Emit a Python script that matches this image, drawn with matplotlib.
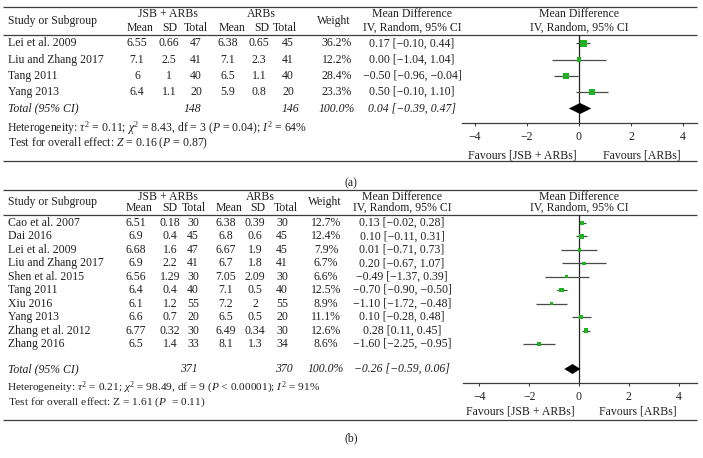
import numpy as np
import matplotlib.pyplot as plt

W, H = 703, 458

# ---- panel (a) data ----
studies_a = ["Lei et al. 2009", "Liu and Zhang 2017", "Tang 2011", "Yang 2013"]
jsb_mean_a = [6.55, 7.1, 6, 6.4]
jsb_sd_a = [0.66, 2.5, 1, 1.1]
jsb_n_a = [47, 41, 40, 20]
arb_mean_a = [6.38, 7.1, 6.5, 5.9]
arb_sd_a = [0.65, 2.3, 1.1, 0.8]
arb_n_a = [45, 41, 40, 20]
weight_a = [36.2, 12.2, 28.4, 23.3]
md_a = [0.17, 0.00, -0.50, 0.50]
lo_a = [-0.10, -1.04, -0.96, -0.10]
hi_a = [0.44, 1.04, -0.04, 1.10]
total_a = [148, 146, 0.04, -0.39, 0.47]
het_a = r"Heterogeneity: $\tau^2$ = 0.11; $\chi^2$ = 8.43, df = 3 ($P$ = 0.04); $I^2$ = 64%"
test_a = r"Test for overall effect: $Z$ = 0.16 ($P$ = 0.87)"

# ---- panel (b) data ----
studies_b = ["Cao et al. 2007", "Dai 2016", "Lei et al. 2009", "Liu and Zhang 2017",
             "Shen et al. 2015", "Tang 2011", "Xiu 2016", "Yang 2013",
             "Zhang et al. 2012", "Zhang 2016"]
jsb_mean_b = [6.51, 6.9, 6.68, 6.9, 6.56, 6.4, 6.1, 6.6, 6.77, 6.5]
jsb_sd_b = [0.18, 0.4, 1.6, 2.2, 1.29, 0.4, 1.2, 0.7, 0.32, 1.4]
jsb_n_b = [30, 45, 47, 41, 30, 40, 55, 20, 30, 33]
arb_mean_b = [6.38, 6.8, 6.67, 6.7, 7.05, 7.1, 7.2, 6.5, 6.49, 8.1]
arb_sd_b = [0.39, 0.6, 1.9, 1.8, 2.09, 0.5, 2, 0.5, 0.34, 1.3]
arb_n_b = [30, 45, 45, 41, 30, 40, 55, 20, 30, 34]
weight_b = [12.7, 12.4, 7.9, 6.7, 6.6, 12.5, 8.9, 11.1, 12.6, 8.6]
md_b = [0.13, 0.10, 0.01, 0.20, -0.49, -0.70, -1.10, 0.10, 0.28, -1.60]
lo_b = [-0.02, -0.11, -0.71, -0.67, -1.37, -0.90, -1.72, -0.28, 0.11, -2.25]
hi_b = [0.28, 0.31, 0.73, 1.07, 0.39, -0.50, -0.48, 0.48, 0.45, -0.95]
total_b = [371, 370, -0.26, -0.59, 0.06]
het_b = r"Heterogeneity: $\tau^2$ = 0.21; $\chi^2$ = 98.49, df = 9 ($P$ < 0.00001); $I^2$ = 91%"
test_b = r"Test for overall effect: Z = 1.61 ($P$  = 0.11)"

xticks = [-4, -2, 0, 2, 4]

plt.rcParams['font.family'] = ['Liberation Serif', 'DejaVu Serif']
plt.rcParams['mathtext.fontset'] = 'custom'
plt.rcParams['mathtext.rm'] = 'Liberation Serif'
plt.rcParams['mathtext.it'] = 'Liberation Serif:italic'

TXT = '#231f20'
GREEN = '#1fb11f'
LINE = '#3c3c3c'
FS = 8.5

fig = plt.figure(figsize=(W / 100, H / 100), dpi=100)
bg = fig.add_axes([0, 0, 1, 1])
bg.set_xlim(0, W)
bg.set_ylim(H, 0)
bg.axis('off')


def num(v):
    return f"{v:g}"


def ci(m, l, h):
    return f"{m:.2f} [{l:.2f}, {h:.2f}]".replace('-', '\u2212')


def txt(x, y, s, ha='center', **kw):
    kw.setdefault('fontsize', FS)
    bg.text(x, y, s, ha=ha, va='center', color=TXT, **kw)


def panel(L, studies, jm, js, jn, am, asd, an, wt, md, lo, hi, tot, het, test):
    c = L['cols']
    # rules
    bg.hlines([L['top'], L['under'], L['bottom']], 3, 697, color=LINE, lw=0.9)
    # header
    txt(8, L['hmid'], "Study or Subgroup", ha='left')
    txt(c['jh'], L['h1'], "JSB + ARBs")
    txt(c['ah'], L['h1'], "ARBs")
    for x, s in zip(c['head2'], ["Mean", "SD", "Total", "Mean", "SD", "Total"]):
        txt(x, L['h2'], s)
    txt(c['wh'], L['hmid'], "Weight")
    for x in (c['md'], 579):
        txt(x, L['h1'], "Mean Difference")
        txt(x, L['h2'], "IV, Random, 95% CI")
    # study rows
    ys = L['first'] + np.arange(len(studies)) * L['step']
    for i, y in enumerate(ys):
        txt(8, y, studies[i], ha='left')
        vals = [num(jm[i]), num(js[i]), str(jn[i]), num(am[i]), num(asd[i]), str(an[i])]
        for x, s in zip(c['vals'], vals):
            txt(x, y, s)
        txt(c['w'], y, f"{wt[i]:.1f}%")
        txt(c['md'], y, ci(md[i], lo[i], hi[i]))
    # total row
    ty = L['total']
    txt(8, ty, "Total (95% CI)", ha='left', style='italic')
    txt(c['vals'][2] - 4, ty, str(tot[0]), style='italic')
    txt(c['vals'][5] + 2, ty, str(tot[1]), style='italic')
    txt(c['w'], ty, "100.0%", style='italic')
    txt(c['md'], ty, ci(tot[2], tot[3], tot[4]), style='italic')
    txt(7, L['het'], het, ha='left', fontsize=L['foot_fs'])
    txt(8, L['test'], test, ha='left', fontsize=L['foot_fs'])
    txt(c['fav1'], L['fav'], "Favours [JSB + ARBs]")
    txt(c['fav2'], L['fav'], "Favours [ARBs]")
    txt(351, L['label'], L['name'])

    # forest axes
    fx0, fx1, k = L['fx0'], 697, L['k']
    ax = fig.add_axes([fx0 / W, 1 - L['axis'] / H, (fx1 - fx0) / W, (L['axis'] - L['under']) / H])
    ax.patch.set_alpha(0)
    ax.set_xlim((fx0 - 579) / k, (fx1 - 579) / k)
    step = L['step']
    ax.set_ylim((L['axis'] - L['first']) / step, (L['under'] - L['first']) / step)
    rows = np.arange(len(studies))
    ax.axvline(0, color='#222222', lw=0.9, zorder=1)
    ax.hlines(rows, lo, hi, color='#4a4a4a', lw=0.9, zorder=2)
    ax.scatter(md, rows, marker='s', s=np.array(wt) * 0.75, color=GREEN, lw=0, zorder=3)
    tr = (ty - L['first']) / step
    dh = L['dh'] / step
    ax.fill([tot[3], tot[2], tot[4], tot[2]], [tr, tr - dh, tr, tr + dh], color='black', lw=0, zorder=4)
    for s in ['top', 'left', 'right']:
        ax.spines[s].set_visible(False)
    ax.spines['bottom'].set_color(LINE)
    ax.spines['bottom'].set_linewidth(0.9)
    ax.set_yticks([])
    ax.set_xticks(xticks)
    ax.tick_params(axis='x', direction='out', length=2.5, width=0.8, labelsize=FS,
                   pad=3, colors=LINE, labelcolor=TXT)


layout_a = dict(name="(a)", top=7, h1=14, hmid=21, h2=28, under=35, first=43.3, step=16.3,
                total=108.5, axis=123, het=128, test=143, fav=155, bottom=161, label=183,
                fx0=462, k=26.0, dh=5.5, foot_fs=FS,
                cols=dict(jh=168, ah=261, head2=[140, 170, 196, 232, 262, 285], wh=334,
                          vals=[137, 169, 196, 228, 259, 288], w=337, md=412,
                          fav1=522, fav2=642))
layout_b = dict(name="(b)", top=190, h1=197, hmid=202, h2=208, under=215, first=223, step=13.44,
                total=369, axis=383, het=388, test=402, fav=412, bottom=420, label=438,
                fx0=463, k=24.9, dh=5, foot_fs=8.2,
                cols=dict(jh=168, ah=260, head2=[139, 170, 194, 229, 258, 286], wh=325,
                          vals=[136, 170, 193, 226, 255, 282], w=326, md=402,
                          fav1=520, fav2=638))

panel(layout_a, studies_a, jsb_mean_a, jsb_sd_a, jsb_n_a, arb_mean_a, arb_sd_a, arb_n_a,
      weight_a, md_a, lo_a, hi_a, total_a, het_a, test_a)
panel(layout_b, studies_b, jsb_mean_b, jsb_sd_b, jsb_n_b, arb_mean_b, arb_sd_b, arb_n_b,
      weight_b, md_b, lo_b, hi_b, total_b, het_b, test_b)

fig.savefig("out.png", dpi=100, facecolor='white')
